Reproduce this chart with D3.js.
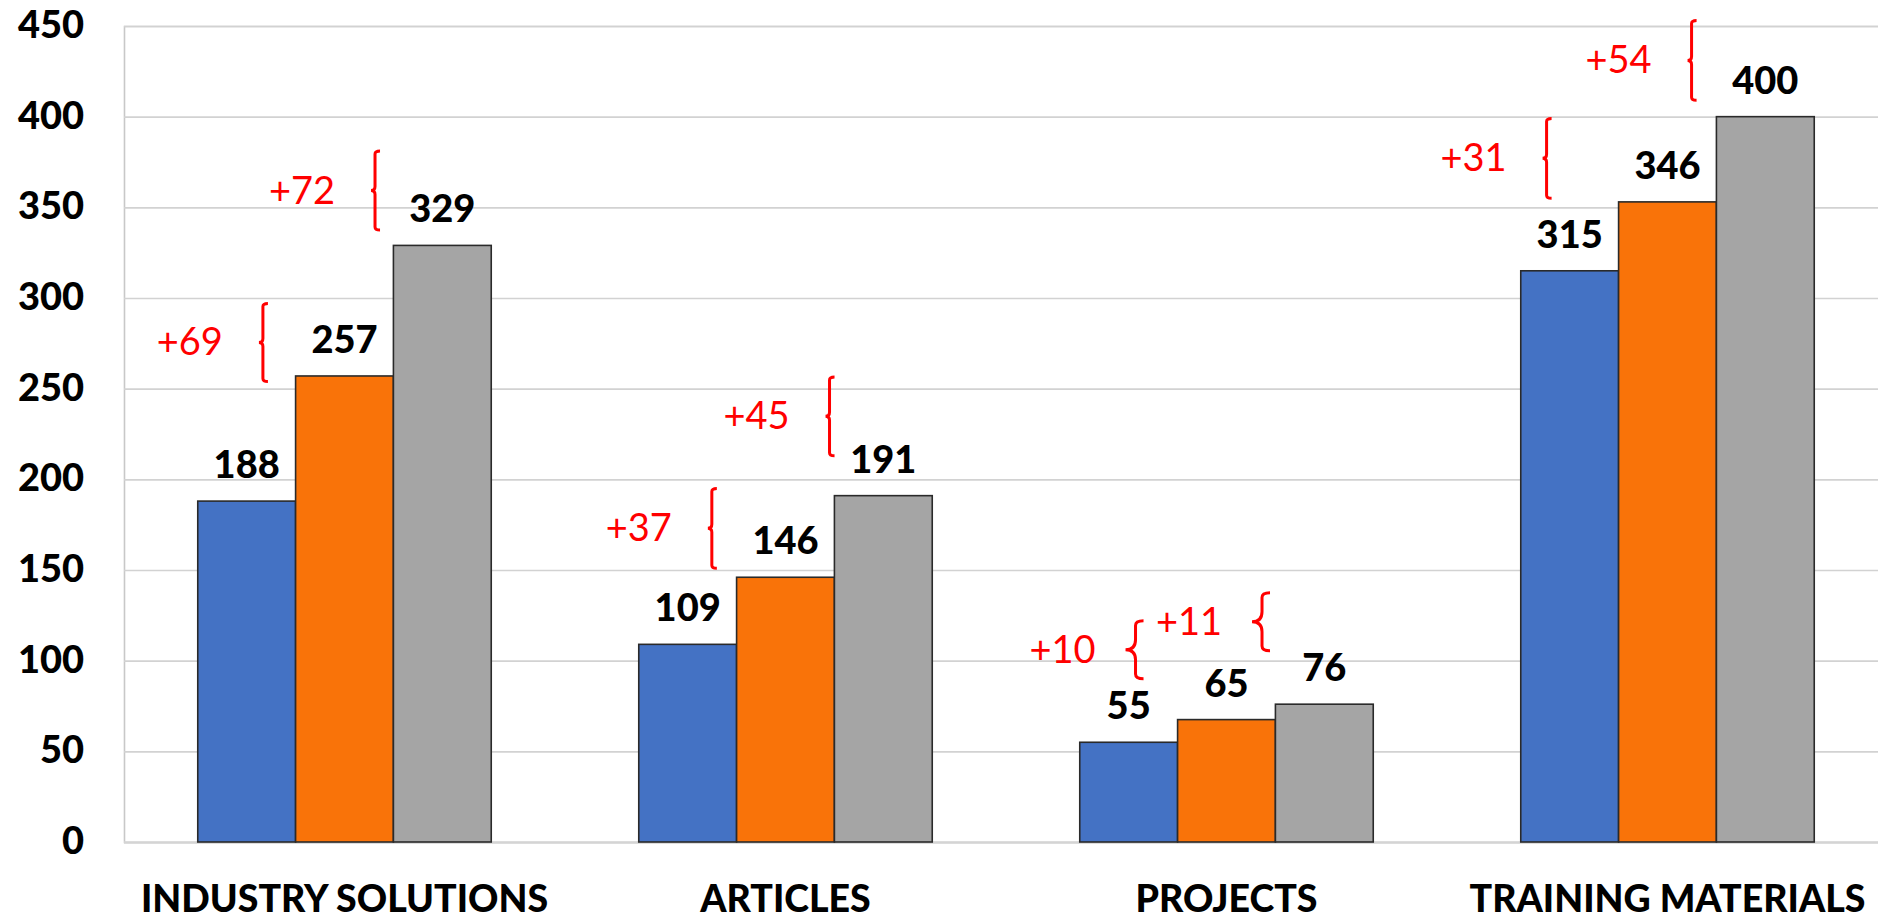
<!DOCTYPE html>
<html>
<head>
<meta charset="utf-8">
<script src="https://cdn.jsdelivr.net/npm/d3@7"></script>
<style>
  html, body { margin: 0; padding: 0; background: #ffffff; overflow: hidden; }
  svg { display: block; }
</style>
</head>
<body>
<svg id="chart" width="1878" height="920"></svg>
<script>
// ---- data ----
const categories = ["INDUSTRY SOLUTIONS", "ARTICLES", "PROJECTS", "TRAINING MATERIALS"];
const seriesA = [188, 109, 55, 315];
const seriesB = [257, 146, 67.5, 353];
const seriesC = [329, 191, 76, 400];
const labelsA = ["188", "109", "55", "315"];
const labelsB = ["257", "146", "65", "346"];
const labelsC = ["329", "191", "76", "400"];
const yTicks = [0, 50, 100, 150, 200, 250, 300, 350, 400, 450];

// difference annotations (brace spans in value units, placement across the category band)
const annCategory = [0, 0, 1, 1, 2, 2, 3, 3];
const annText = ["+69", "+72", "+37", "+45", "+10", "+11", "+31", "+54"];
const annHigh = [297, 381, 195, 256.5, 122, 137.5, 399, 453];
const annLow = [254, 337.5, 151, 213, 90, 105.5, 355, 409];
const annAt = [0.222, 0.604, 0.249, 0.65, 0.19, 0.621, 0.088, 0.582];

(function () {
// ---- layout ----
const plotLeft = 124, plotRight = 1888, plotTop = 26, plotBottom = 842;
const colors = ["#4472C4", "#F97309", "#A5A5A5"];
const FONT = "Lato, 'Open Sans', sans-serif";
const BOLD = 900;

const svg = d3.select("#chart");

const x = d3.scaleBand().domain(d3.range(categories.length))
  .range([plotLeft, plotRight]).paddingInner(0.3345).paddingOuter(0.3345 / 2);
const xs = d3.scaleBand().domain([0, 1, 2]).range([0, x.bandwidth()]).padding(0);
const y = d3.scaleLinear().domain([0, 450]).range([plotBottom, plotTop]);

// gridlines
const yAxis = d3.axisLeft(y).tickValues(yTicks).tickSize(-(plotRight - plotLeft)).tickFormat("");
const gAxis = svg.append("g").attr("transform", `translate(${plotLeft},0)`).call(yAxis);
gAxis.select(".domain").attr("stroke", "#c8c8c8").attr("stroke-width", 1.6);
gAxis.selectAll(".tick line").attr("stroke", "#d2d2d2").attr("stroke-width", 1.6);
gAxis.selectAll(".tick").filter(d => d === 0).select("line")
  .attr("stroke", "#d4d4d4").attr("stroke-width", 2.6);

// y tick labels
svg.append("g").selectAll("text").data(yTicks).join("text")
  .attr("x", 84).attr("y", d => y(d) + 12)
  .attr("text-anchor", "end")
  .style("font-family", FONT).style("font-weight", BOLD).style("font-size", "38px")
  .attr("fill", "#000").text(d => d);

// bars
const series = [seriesA, seriesB, seriesC];
const labels = [labelsA, labelsB, labelsC];
const barData = [];
series.forEach((s, si) => s.forEach((v, ci) => barData.push({ si, ci, v, label: labels[si][ci] })));

svg.append("g").selectAll("rect").data(barData).join("rect")
  .attr("x", d => x(d.ci) + xs(d.si))
  .attr("y", d => y(d.v))
  .attr("width", xs.bandwidth())
  .attr("height", d => y(0) - y(d.v))
  .attr("fill", d => colors[d.si])
  .attr("stroke", "#2a2a2a").attr("stroke-width", 1.6);

// value labels
svg.append("g").selectAll("text").data(barData).join("text")
  .attr("x", d => x(d.ci) + xs(d.si) + xs.bandwidth() / 2)
  .attr("y", d => y(d.v) - 23)
  .attr("text-anchor", "middle")
  .style("font-family", FONT).style("font-weight", BOLD).style("font-size", "38px")
  .attr("fill", "#000").text(d => d.label);

// category labels
svg.append("g").selectAll("text").data(categories).join("text")
  .attr("x", (d, i) => x(i) + x.bandwidth() / 2)
  .attr("y", 912)
  .attr("text-anchor", "middle")
  .style("font-family", FONT).style("font-weight", BOLD).style("font-size", "37.5px")
  .attr("fill", "#000").text(d => d);

// annotations: braces + red delta text
const annData = annText.map((t, i) => ({
  t, c: annCategory[i], hi: annHigh[i], lo: annLow[i], at: annAt[i]
}));
function bracePath(d) {
  const bx = x(d.c) + d.at * x.bandwidth();
  const yt = y(d.hi), yb = y(d.lo), ym = (yt + yb) / 2;
  const small = (yb - yt) < 70;
  const h = small ? 8 : 5, n = small ? 10 : 4;
  const p = d3.path();
  p.moveTo(bx + h, yt);
  p.quadraticCurveTo(bx, yt, bx, yt + h * 0.6);
  p.lineTo(bx, ym - n);
  p.quadraticCurveTo(bx, ym, bx - n, ym);
  p.quadraticCurveTo(bx, ym, bx, ym + n);
  p.lineTo(bx, yb - h * 0.6);
  p.quadraticCurveTo(bx, yb, bx + h, yb);
  return p.toString();
}
const gAnn = svg.append("g");
gAnn.selectAll("path").data(annData).join("path")
  .attr("d", bracePath)
  .attr("fill", "none").attr("stroke", "#FF0000").attr("stroke-width", 3);
gAnn.selectAll("text").data(annData).join("text")
  .attr("x", d => x(d.c) + d.at * x.bandwidth() - 40)
  .attr("y", d => (y(d.hi) + y(d.lo)) / 2 + 13)
  .attr("text-anchor", "end")
  .style("font-family", FONT).style("font-weight", 400).style("font-size", "38px")
  .attr("fill", "#FF0000").text(d => d.t);
})();
</script>
</body>
</html>
